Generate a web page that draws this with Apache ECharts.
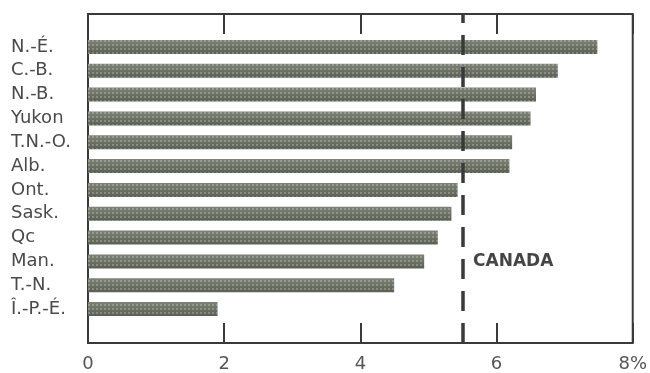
<!DOCTYPE html>
<html>
<head>
<meta charset="utf-8">
<script src="https://cdn.jsdelivr.net/npm/echarts@6/dist/echarts.min.js"></script>
<style>
  html, body { margin: 0; padding: 0; background: #fff; }
  #chart { width: 650px; height: 373px; }
</style>
</head>
<body>
<div id="chart"></div>
<script>
// provinces, top to bottom
var provinces = ['N.-É.', 'C.-B.', 'N.-B.', 'Yukon', 'T.N.-O.', 'Alb.', 'Ont.', 'Sask.', 'Qc', 'Man.', 'T.-N.', 'Î.-P.-É.'];
var rates = [7.47, 6.89, 6.57, 6.49, 6.22, 6.18, 5.42, 5.33, 5.13, 4.93, 4.49, 1.90];
var canadaRate = 5.5;
var canadaLabel = 'CANADA';
var xTicks = [0, 2, 4, 6, 8];

var chart = echarts.init(document.getElementById('chart'));

var option = {
    animation: false,
    backgroundColor: '#ffffff',
    grid: [
        // outer frame
        { left: 88, right: 16.5, top: 14, bottom: 30, show: true, borderColor: '#3a3a3a', borderWidth: 2, backgroundColor: 'transparent' },
        // bars area
        { left: 88, right: 16.5, top: 35, bottom: 52 }
    ],
    xAxis: [
        {
            gridIndex: 0, type: 'value', min: 0, max: 8, interval: 2, position: 'bottom',
            axisLine: { show: false },
            splitLine: { show: false },
            axisTick: { show: true, inside: true, length: 20, lineStyle: { color: '#3a3a3a', width: 2 } },
            axisLabel: {
                margin: 12, fontFamily: 'DejaVu Sans', fontSize: 18, color: '#555',
                formatter: function (v) { return v === 8 ? '8%' : String(v); }
            }
        },
        {
            gridIndex: 0, type: 'value', min: 0, max: 8, interval: 2, position: 'top',
            axisLine: { show: false },
            splitLine: { show: false },
            axisTick: { show: true, inside: true, length: 20, lineStyle: { color: '#3a3a3a', width: 2 } },
            axisLabel: { show: false }
        },
        {
            gridIndex: 1, type: 'value', min: 0, max: 8, show: false
        }
    ],
    yAxis: [
        { gridIndex: 0, type: 'value', min: 0, max: 1, show: false },
        {
            gridIndex: 1, type: 'category', data: provinces, inverse: true,
            axisLine: { show: false },
            axisTick: { show: false },
            axisLabel: {
                margin: 77, align: 'left', fontFamily: 'DejaVu Sans', fontSize: 18, color: '#4a4a4a'
            }
        }
    ],
    series: [
        {
            name: 'rates',
            type: 'bar',
            xAxisIndex: 2,
            yAxisIndex: 1,
            data: rates,
            barWidth: 14,
            itemStyle: {
                color: {
                    type: 'linear', x: 0, y: 0, x2: 0, y2: 1,
                    colorStops: [
                        { offset: 0, color: '#7d8377' },
                        { offset: 1, color: '#5a5f54' }
                    ]
                },
                decal: {
                    symbol: 'rect',
                    symbolSize: 1,
                    dashArrayX: [2, 2],
                    dashArrayY: [2, 2],
                    color: 'rgba(220,226,210,0.3)'
                }
            },
            markPoint: {
                symbol: 'circle',
                symbolSize: 0,
                data: [{ coord: [canadaRate, 'Man.'], value: canadaLabel }],
                label: {
                    show: true, position: 'right', distance: 10,
                    formatter: canadaLabel,
                    fontFamily: 'DejaVu Sans', fontWeight: 'bold', fontSize: 17, color: '#454545'
                }
            },
            z: 2
        },
        {
            name: 'canada',
            type: 'line',
            xAxisIndex: 0,
            yAxisIndex: 0,
            data: [],
            markLine: {
                silent: true,
                symbol: ['none', 'none'],
                label: { show: false },
                lineStyle: { color: '#3a3a3a', width: 3.5, type: [20, 12] },
                data: [{ xAxis: canadaRate }]
            },
            z: 5
        }
    ]
};

chart.setOption(option);
</script>
</body>
</html>
